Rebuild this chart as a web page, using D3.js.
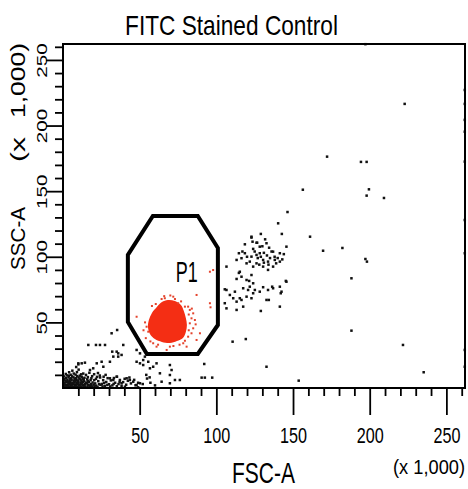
<!DOCTYPE html>
<html>
<head>
<meta charset="utf-8">
<script src="https://cdn.jsdelivr.net/npm/d3@7"></script>
<style>
  body { margin: 0; background: #fff; }
  svg { display: block; }
  text { font-family: "Liberation Sans", Arial, sans-serif; fill: #000; }
</style>
</head>
<body>
<svg id="chart" width="468" height="489"></svg>
<script>
// ---- labels ----
const chartTitle = "FITC Stained Control";
const xTitle = "FSC-A";
const yTitle = "SSC-A";
const unitScale = ["(x", "1,000)"];
const gateName = "P1";

// ---- axis ticks (values in thousands) ----
const axisMax = 262.144;
const majorTicks = [50, 100, 150, 200, 250];
const minorTicks = [10, 20, 30, 40, 60, 70, 80, 90, 110, 120, 130, 140, 160, 170, 180, 190, 210, 220, 230, 240, 260];

// ---- P1 gate outline [FSC-A, SSC-A] (x 1,000) ----
const gateP1 = [[58.6,131.1],[87.9,131.1],[101.0,106.7],[101.0,48.0],[87.9,25.9],[54.7,25.9],[42.3,50.3],[42.3,101.4]];

// ---- dense core of P1 events (outline of the overlapping-event mass) ----
const p1Core = [[68.4,67.1],[73.0,66.3],[76.9,63.3],[78.8,58.7],[80.1,53.4],[80.8,48.0],[80.1,42.7],[78.2,38.1],
  [74.3,35.8],[69.7,34.3],[64.5,35.1],[59.9,37.3],[56.7,41.2],[55.4,46.5],[56.0,51.8],[58.0,57.2],[61.2,61.7],[64.5,65.5]];

// ---- individual P1 events around the core ----
const p1Events = [[95.8,88.6],[97.9,89.9],[95.8,64.6],[96.2,61.5],[87.1,70.9],[81.6,62.0],[82.7,59.5],[84.9,56.9],
  [83.8,53.1],[86.0,51.8],[82.7,49.3],[84.9,45.5],[83.8,41.7],[81.6,39.1],[87.1,36.6],[71.9,69.6],[73.0,67.8],
  [75.1,64.6],[48.0,54.3],[54.5,46.7],[55.6,42.9],[67.6,29.0],[69.7,31.5],[78.4,34.1],[80.6,31.5],[58.8,34.1],
  [61.0,31.5],[64.3,67.8],[66.4,68.4],[89.3,41.7],[60.5,64.0],[77.0,66.0],[79.5,62.0],[53.5,50.0],[54.0,38.0],
  [57.0,35.5],[72.0,32.0],[76.0,33.0],[82.0,44.0],[82.0,56.0],[66.0,70.0],[70.0,70.5],[62.0,33.0],[86.5,48.5],
  [84.0,60.5],[79.5,36.0],[52.5,44.0],[58.0,62.5]];

// ---- events outside the gate ----
const otherEvents = [
  // debris near the origin
  [1,0.8],[2.2,0.6],[3.4,1],[4.5,0.7],[5.8,1.1],[7,0.6],[8.2,0.9],[9.5,0.7],[10.7,1.2],[12,0.8],[13.3,0.6],[14.6,1.1],
  [16,0.7],[17.5,1.3],[19,0.8],[20.5,1.2],[22.5,0.9],[1.2,2.3],[2.6,2.1],[3.9,2.6],[5.1,2.2],[6.4,2.7],[7.7,2.3],
  [9,2.8],[10.3,2.2],[11.6,2.6],[13,2.4],[14.5,2.9],[16.3,2.5],[18.2,3],[24.5,2.4],[0.9,3.9],[2.1,4.2],[3.5,3.8],
  [4.8,4.4],[6.1,3.9],[7.4,4.3],[8.8,3.9],[10,4.5],[11.4,4],[12.9,4.6],[15,4.1],[17,4.6],[19.3,4.2],[1.5,5.7],
  [2.9,6],[4.3,5.5],[5.6,6.1],[7,5.6],[8.5,6.2],[9.9,5.8],[11.5,6.4],[13.5,6],[15.8,6.6],[18,6.1],[2,7.6],[3.6,8],
  [5.2,7.4],[6.8,8.1],[8.3,7.6],[10.1,8],[12.2,8.5],[14,7.8],[16.2,8.3],[19,9],[2.8,9.6],[5,10.1],[7,11],[8.2,10.2],
  [9.1,12.1],[11,9.4],[10.2,14],[6.1,13.2],[8.6,16],[10,18],[13.2,11],[17.2,11.6],[4,12],
  [1.6,1.5],[3,1.6],[4,3.2],[5.5,1.7],[6.9,3.4],[8.6,1.8],[9.7,3.4],[11,1.7],[12.4,3.5],[13.9,1.9],[15.5,3.6],
  [17,2],[18.6,1.9],[20,2.6],[21.6,1.8],[23.5,2.9],[25.8,1.2],[26.8,3.9],[28.9,2.3],[30.8,1.2],[33,3.1],[35.1,1.4],
  [36.9,4.6],[1.8,4.9],[3.2,4.8],[5,3.3],[7.8,5],[9.4,4.9],[12,5.2],[13.8,5.1],[16.2,5.3],[0.7,6.7],[4.8,6.7],
  [7.6,7],[10.8,7.2],[13,7.1],[0.8,8.8],[3.9,9.2],[6,8.9],[9.3,9.1],[1.8,10.7],[11.8,10.4],[15,10],[20.3,10.5],
  [22.8,11.4],[24,9.5],[26.5,8.6],[27.8,10],[18.5,7.4],[20.4,6],[22.2,8.5],
  [21,3.5],[21.5,7],[23,5.2],[24.2,8],[25.3,3.1],[26.2,6],[27.3,1.6],[28.2,4.6],[29.1,7.5],[30,2.9],[31.2,5.8],
  [32.2,2],[33.2,7.6],[34,4],[35.2,8.6],[36.2,3],[37.1,6.1],[38.2,1.6],[39.2,4.5],[40.2,7],[41.2,2.5],[42.3,5.5],
  [43.3,8],[44.3,3.5],[45.8,4.8],[46.4,6.2],[47.3,2.1],[49,4],[49,0.5],[48,2.3],[50.2,3.6],[52,3],[54.8,7.2],[57,4],
  [60,2],[38.2,3.6],[40.4,1],[30.6,7.4],[32.8,6.1],[35,8.6],[41.5,7.4],[43.6,6.1],
  [16.5,32.8],[21.5,32.8],[24.1,32.8],[27.4,32.8],[31.7,41.7],[35.3,44.2],[39.3,32.8],[36,26.4],[38.2,25.2],
  [32.1,27.7],[32.8,23.9],[30.6,20],[35,27.7],[36,23.9],[10,18.8],[12.2,18.8],[14.3,19.3],[22,18.8],[25.2,20],
  [26.3,16.2],[19.7,15],[17.6,13.7],[48,20],[50.2,18.8],[52.3,17.5],[56.7,15],[54.3,10],[56.5,8.1],[63.2,11.2],
  [69.7,9.9],[64.3,4.8],[69.7,3.6],[73,6.1],[76.2,6.1],[69.7,17.5],[70.8,13.7],[58.8,16.2],[61,18.8],[55.6,20],
  [53.4,23.9],[52.3,21.3],[48,29],[50.2,26.4],[92.1,18.3],[90.4,7.9],[92.5,7.9],[97.3,7.9],[132.7,16.2],[110.6,35.3],
  [119.2,37.3],[153.7,5.6],[235.2,12],[221.7,32.8],[188.1,43.7],
  // side-scatter-high population
  [122.9,114.6],[123.6,111.5],[118.6,109.5],[126.2,110.7],[128.3,107.7],[132.7,110.3],[134.4,106.9],[137.0,103.9],
  [141.4,102.7],[145.7,107.7],[114.7,102.7],[118.6,102.7],[122.9,100.1],[126.2,101.4],[128.3,102.7],[130.5,97.6],
  [133.7,96.3],[138.1,97.6],[141.4,96.3],[137.0,92.5],[133.7,90.0],[130.5,92.5],[126.2,95.0],[124.0,92.5],
  [119.7,95.0],[121.8,96.3],[113.2,97.6],[116.4,98.9],[115.3,88.6],[116.4,84.8],[119.7,82.3],[122.9,86.1],
  [124.0,79.8],[121.8,77.2],[125.1,74.7],[128.3,73.4],[130.5,76.8],[133.7,74.7],[137.0,76.0],[141.4,77.2],
  [142.5,73.4],[145.7,81.0],[106.6,74.7],[108.8,70.9],[105.5,64.6],[111.0,68.4],[113.2,65.8],[116.4,67.1],
  [119.7,69.6],[122.9,68.4],[117.5,62.0],[106.6,60.7],[113.2,59.5],[132.7,67.1],[141.4,62.0],[106.6,92.5],
  [125,104],[127,99],[129,100],[131,103],[133,101],[135,99],[136,104],[138,100],[139,95],[134,94],[128,94],
  [131,95.5],[120,100],[117,104],[124,106],[130,108],[140,99],[143,98],[144,102],[114.7,87.7],[113.2,83.1],
  [121.4,81.6],[136.4,77.2],[142.0,72.2],[105.5,75.2],[117.5,76.0],[120.7,74.7],[124.0,72.2],[112.1,73.4],
  [115.3,68.4],[129.0,117.4],[122.9,115.3],[126.6,110.7],[131.8,113.3],
  // sparse large events
  [222.8,216.5],[172.2,176.3],[194.3,172.3],[198,172.3],[199.5,151.4],[198,146.6],[209.3,144.8],[156.4,151.1],
  [146.4,134.1],[140.3,125.5],[142.7,117.4],[161.1,115.3],[182.2,106.7],[169.6,104.6],[197.2,98.3],[198.2,96.3],
  [188.1,83.6],[145.3,81.6],[134.2,67.1],[129,58.7],
  // off-scale events piled on the edges
  [262,227.1],[262,216.5],[262,204.3],[262,195.3],[262,172.5],[262,128],[262,102.7],[262,29],[262,16.2],[197.2,262]
];

// ---- drawing ----
const svg = d3.select("#chart");
const plot = { left: 63, right: 465, top: 44, bottom: 388 };

const x = d3.scaleLinear().domain([0, axisMax]).range([plot.left, plot.right]);
const y = d3.scaleLinear().domain([0, axisMax]).range([plot.bottom, plot.top]);

// Condensed text: place the text at the origin of a positioned group and squeeze it
// horizontally so that it spans `width` pixels along its own baseline.
function condensed(parent, { tx, ty, rotate = 0, size, width, anchor = "middle", label }) {
  const g = parent.append("g").attr("transform", `translate(${tx},${ty}) rotate(${rotate})`);
  const t = g.append("text")
    .attr("font-size", size)
    .attr("text-anchor", anchor)
    .text(label);
  const natural = t.node().getComputedTextLength();
  t.attr("transform", `scale(${width / natural},1)`);
  return g;
}

// events outside the gate
const dot = 2.5;
svg.append("g").selectAll("rect")
  .data(otherEvents).join("rect")
  .attr("x", d => x(d[0]) - dot / 2)
  .attr("y", d => y(d[1]) - dot / 2)
  .attr("width", dot).attr("height", dot)
  .attr("fill", "#111");

// P1 events
svg.append("path")
  .datum(p1Core)
  .attr("d", d3.line().x(d => x(d[0])).y(d => y(d[1])).curve(d3.curveCatmullRomClosed))
  .attr("fill", "#f42e14");

svg.append("g").selectAll("rect")
  .data(p1Events).join("rect")
  .attr("x", d => x(d[0]) - 1)
  .attr("y", d => y(d[1]) - 1)
  .attr("width", 2).attr("height", 2)
  .attr("fill", "#e4432c");

// gate
svg.append("path")
  .datum(gateP1)
  .attr("d", d3.line().x(d => x(d[0])).y(d => y(d[1])).curve(d3.curveLinearClosed))
  .attr("fill", "none")
  .attr("stroke", "#000")
  .attr("stroke-width", 4)
  .attr("stroke-linejoin", "miter");

condensed(svg, { tx: x(73.5), ty: y(80.5), size: 29, width: 22, anchor: "start", label: gateName });

// frame
svg.append("rect")
  .attr("x", plot.left).attr("y", plot.top)
  .attr("width", plot.right - plot.left).attr("height", plot.bottom - plot.top)
  .attr("fill", "none").attr("stroke", "#000").attr("stroke-width", 2);

// axes
function styleAxis(g) {
  g.select(".domain").remove();
  g.selectAll(".tick line").attr("stroke", "#000").attr("stroke-width", 1.8);
}

svg.append("g")
  .attr("transform", `translate(0,${plot.bottom})`)
  .call(d3.axisBottom(x).tickValues(minorTicks).tickSize(8).tickFormat(""))
  .call(styleAxis);

const xMajor = svg.append("g")
  .attr("transform", `translate(0,${plot.bottom})`)
  .call(d3.axisBottom(x).tickValues(majorTicks).tickSize(27).tickFormat(""))
  .call(styleAxis);
xMajor.selectAll(".tick").each(function (d) {
  condensed(d3.select(this), { tx: 0, ty: 55, size: 22, width: String(d).length * 9, label: String(d) });
});

svg.append("g")
  .attr("transform", `translate(${plot.left},0)`)
  .call(d3.axisLeft(y).tickValues(minorTicks).tickSize(8).tickFormat(""))
  .call(styleAxis);

const yMajor = svg.append("g")
  .attr("transform", `translate(${plot.left},0)`)
  .call(d3.axisLeft(y).tickValues(majorTicks).tickSize(17).tickFormat(""))
  .call(styleAxis);
yMajor.selectAll(".tick").each(function (d) {
  condensed(d3.select(this), { tx: -16, ty: 0, rotate: -90, size: 14, width: String(d).length * 11.5, label: String(d) });
});

// titles
condensed(svg, { tx: 231.5, ty: 35, size: 28, width: 213, label: chartTitle });
condensed(svg, { tx: 263.5, ty: 483, size: 29, width: 63, label: xTitle });
condensed(svg, { tx: 429, ty: 474, size: 21, width: 72, label: unitScale.join(" ") });
condensed(svg, { tx: 25, ty: 238.5, rotate: -90, size: 21, width: 63, label: yTitle });
condensed(svg, { tx: 25, ty: 149.5, rotate: -90, size: 21, width: 25, label: unitScale[0] });
condensed(svg, { tx: 25, ty: 80.5, rotate: -90, size: 21, width: 75, label: unitScale[1] });
</script>
</body>
</html>
